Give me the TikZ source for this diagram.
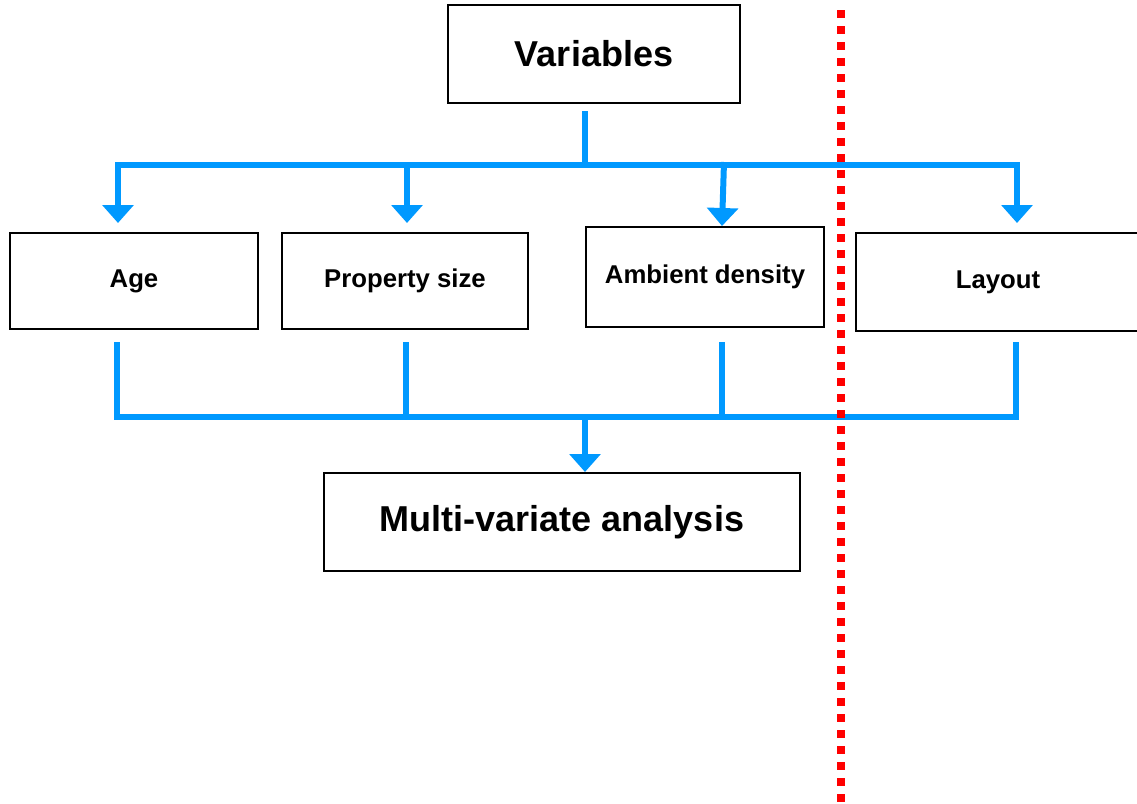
\documentclass[tikz,border=0pt]{standalone}
\usepackage{fontspec}
\setmainfont{Liberation Sans}
\usetikzlibrary{arrows.meta, positioning, calc}
\definecolor{linkblue}{HTML}{0099FF}
\begin{document}
\begin{tikzpicture}[x=0.75pt, y=-0.75pt,
    box/.style={draw, line width=1.5pt, font=\bfseries, inner sep=0pt},
    flow/.style={linkblue, line width=4.5pt},
    flowarrow/.style={flow, -{Triangle[width=23pt,length=13.5pt]}}]
                \useasboundingbox (0,0) rectangle (1137,803);
                % Boxes
                \node[box, minimum width=219pt, minimum height=73.5pt, font=\bfseries\fontsize{27}{32}\selectfont] (vars) at (594,54) {Variables};
                \node[box, minimum width=186pt, minimum height=72pt, font=\bfseries\fontsize{19.3}{22}\selectfont] (age) at (134,281) {Age};
                \node[box, minimum width=184.5pt, minimum height=72pt, font=\bfseries\fontsize{19.3}{22}\selectfont] (propsize) at (405,281) {Property size};
                \node[box, minimum width=178.5pt, minimum height=75pt, font=\bfseries\fontsize{19.3}{22}\selectfont] (ambient) at (705,277) {Ambient density};
                \node[box, minimum width=213pt, minimum height=73.5pt, font=\bfseries\fontsize{19.3}{22}\selectfont] (layout) at (998,282) {Layout};
                \node[box, minimum width=357pt, minimum height=73.5pt, font=\bfseries\fontsize{27}{32}\selectfont] (mva) at (562,522) {Multi-variate analysis};
                
                % Split to the variables
                \coordinate (topbar) at (585,165);
                \coordinate (t1) at (118,165);
                \coordinate (t2) at (407,165);
                \coordinate (t3) at (724,165);
                \coordinate (t4) at (1017,165);
                \draw[flow] ([yshift=-5.25pt]vars.south -| topbar) -- (topbar);
                \draw[flow] ([xshift=-2.25pt]t1) -- ([xshift=2.25pt]t4);
                \draw[flowarrow] ([yshift=2.25pt]t1) -- ([yshift=6.75pt]t1 |- age.north);
                \draw[flowarrow] ([yshift=2.25pt]t2) -- ([yshift=6.75pt]t2 |- propsize.north);
                \draw[flowarrow] ([yshift=2.25pt]t3) -- ([xshift=-1.5pt]t3 |- ambient.north);
                \draw[flowarrow] ([yshift=2.25pt]t4) -- ([yshift=6.75pt]t4 |- layout.north);
                
                % Join to the analysis
                \coordinate (botbar) at (585,417);
                \coordinate (b1) at (117,417);
                \coordinate (b2) at (406,417);
                \coordinate (b3) at (722,417);
                \coordinate (b4) at (1016,417);
                \draw[flow] ([yshift=-9pt]b1 |- age.south) -- (b1);
                \draw[flow] ([yshift=-9pt]b2 |- propsize.south) -- (b2);
                \draw[flow] ([yshift=-10.5pt]b3 |- ambient.south) -- (b3);
                \draw[flow] ([yshift=-7.5pt]b4 |- layout.south) -- (b4);
                \draw[flow] ([xshift=-2.25pt]b1) -- ([xshift=2.25pt]b4);
                \draw[flowarrow] ([yshift=-2.25pt]botbar) -- (botbar |- mva.north);
                
                % Divider
                \draw[red, line width=6pt, dash pattern=on 6pt off 6pt] (841,10) -- (841,803);
            \end{tikzpicture}
\end{document}
